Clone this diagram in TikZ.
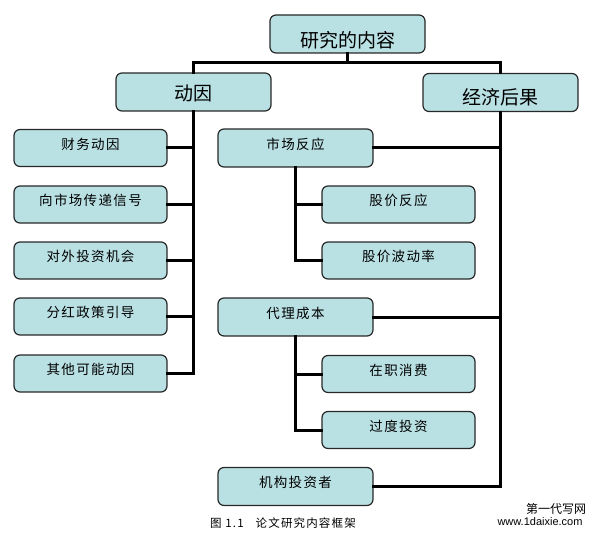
\documentclass[tikz,border=0pt]{standalone}
\usepackage{fontspec}
\setmainfont{Liberation Sans}
\newfontfamily\cjk{Noto Sans CJK SC}
\newfontfamily\cjksp[LetterSpace=10]{Noto Sans CJK SC}
\definecolor{boxfill}{RGB}{185,224,227}
\definecolor{boxline}{RGB}{40,40,40}
\begin{document}
\begin{tikzpicture}[x=1pt,y=-1pt,
  box/.style={draw=boxline,fill=boxfill,line width=1.2pt,rounded corners=6pt,
    inner sep=0pt,minimum width=155pt,minimum height=38pt},
  sbox/.style={box,minimum width=153pt,minimum height=37pt},
  bigtxt/.style={font=\cjk\fontsize{19}{21}\selectfont,inner sep=0pt},
  smalltxt/.style={font=\cjksp\fontsize{13.5}{15}\selectfont,inner sep=0pt},
  conn/.style={line width=3pt,line join=miter,line cap=rect}]
\useasboundingbox (0,0) rectangle (596,537);
% boxes
\node[box] (top) at (347.5,34) {};
\node[bigtxt] at ([yshift=-6pt]top.center) {研究的内容};
\node[box] (dy) at (193.5,92) {};
\node[bigtxt] at ([yshift=-1pt]dy.center) {动因};
\node[box] (jj) at (500.5,92.5) {};
\node[bigtxt] at ([yshift=-5pt]jj.center) {经济后果};
% left column
\node[sbox] (b1) at (90.5,148) {};
\node[smalltxt] at ([yshift=4pt]b1.center) {财务动因};
\node[sbox] (b2) at (90.5,204.5) {};
\node[smalltxt] at ([yshift=4pt]b2.center) {向市场传递信号};
\node[sbox] (b3) at (90.5,260.5) {};
\node[smalltxt] at ([yshift=4pt]b3.center) {对外投资机会};
\node[sbox] (b4) at (90.5,316.5) {};
\node[smalltxt] at ([yshift=4pt]b4.center) {分红政策引导};
\node[sbox] (b5) at (90.5,373.5) {};
\node[smalltxt] at ([yshift=4pt]b5.center) {其他可能动因};
% right column
\node[box] (r1) at (295.5,148) {};
\node[smalltxt] at ([yshift=4pt]r1.center) {市场反应};
\node[sbox] (s1) at (398.5,204.5) {};
\node[smalltxt] at ([yshift=4pt]s1.center) {股价反应};
\node[sbox] (s2) at (398.5,260.5) {};
\node[smalltxt] at ([yshift=4pt]s2.center) {股价波动率};
\node[box] (r2) at (295.5,317) {};
\node[smalltxt] at ([yshift=4pt]r2.center) {代理成本};
\node[sbox] (s3) at (398.5,374) {};
\node[smalltxt] at ([yshift=4pt]s3.center) {在职消费};
\node[sbox] (s4) at (398.5,430) {};
\node[smalltxt] at ([yshift=4pt]s4.center) {过度投资};
\node[box] (r3) at (295.5,486.5) {};
\node[smalltxt] at ([yshift=4pt]r3.center) {机构投资者};
% connectors
\coordinate (hb) at (0,63);
\draw[conn] (top.south) -- (top.south |- hb);
\draw[conn] (dy.north) -- (dy.north |- hb) -- (jj.north |- hb) -- (jj.north);
\draw[conn] (dy.south) -- (dy.south |- b5.east) -- (b5.east);
\foreach \b in {b1,b2,b3,b4}{\draw[conn] (\b.east) -- (\b.east -| dy.south);}
\draw[conn] (jj.south) -- (jj.south |- r3.east) -- (r3.east);
\draw[conn] (r1.east) -- (r1.east -| jj.south);
\draw[conn] (r2.east) -- (r2.east -| jj.south);
\draw[conn] (r1.south) -- (r1.south |- s2.west) -- (s2.west);
\draw[conn] (s1.west) -- (s1.west -| r1.south);
\draw[conn] (r2.south) -- (r2.south |- s4.west) -- (s4.west);
\draw[conn] (s3.west) -- (s3.west -| r2.south);
% caption and watermark
\node[font=\cjksp\fontsize{11.5}{13}\selectfont,inner sep=0pt] (cap) at (283,523) {图 1.1\hspace{12pt}论文研究内容框架};
\node[font=\cjk\fontsize{12}{14}\selectfont,inner sep=0pt] (wm1) at (556,509) {第一代写网};
\node[font=\fontsize{11}{13}\selectfont,inner sep=0pt] (wm2) at (540,522) {www.1daixie.com};
\end{tikzpicture}
\end{document}
